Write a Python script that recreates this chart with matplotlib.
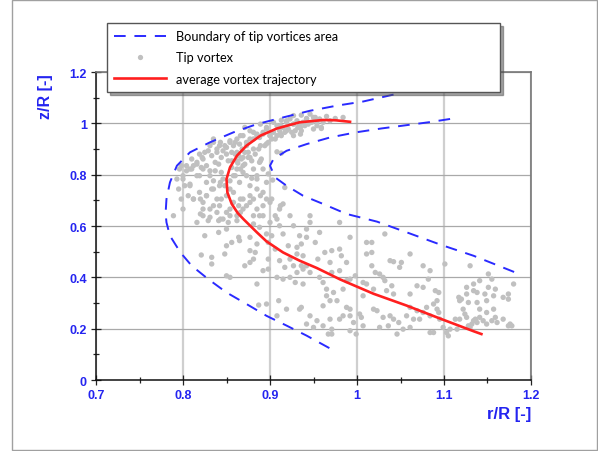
import matplotlib
matplotlib.use("Agg")
import matplotlib.pyplot as plt
from matplotlib.lines import Line2D
from matplotlib.patches import Rectangle

# average vortex trajectory (r/R, z/R)
avg_r = [0.992, 0.975, 0.961, 0.934, 0.908, 0.889, 0.873, 0.862, 0.854, 0.850, 0.851, 0.856, 0.863,
         0.870, 0.885, 0.896, 0.915, 0.934, 0.954, 0.9805, 1.019, 1.057, 1.095, 1.134, 1.143]
avg_z = [1.006, 1.012, 1.013, 1.004, 0.980, 0.952, 0.913, 0.874, 0.828, 0.783, 0.731, 0.686, 0.650,
         0.625, 0.575, 0.540, 0.497, 0.465, 0.436, 0.392, 0.336, 0.290, 0.240, 0.190, 0.179]

# boundary of the tip vortices area
outer_r = [1.042, 1.007, 0.977, 0.946, 0.915, 0.885, 0.858, 0.831, 0.808, 0.793, 0.785, 0.781, 0.780,
           0.781, 0.785, 0.797, 0.810, 0.829, 0.850, 0.873, 0.896, 0.919, 0.942, 0.970]
outer_z = [1.112, 1.085, 1.069, 1.049, 1.023, 0.997, 0.965, 0.926, 0.887, 0.835, 0.770, 0.705, 0.650,
           0.614, 0.562, 0.497, 0.445, 0.393, 0.341, 0.296, 0.250, 0.212, 0.173, 0.121]
inner_r = [1.107, 1.082, 1.055, 1.028, 0.999, 0.969, 0.942, 0.919, 0.904, 0.900, 0.906, 0.919, 0.938,
           0.961, 0.988, 1.023, 1.059, 1.097, 1.134, 1.182]
inner_z = [1.017, 1.004, 0.992, 0.980, 0.965, 0.945, 0.919, 0.893, 0.861, 0.835, 0.789, 0.757, 0.718,
           0.686, 0.647, 0.617, 0.573, 0.526, 0.484, 0.419]

# tip vortex positions (r/R, z/R)
tip_upper = [
    (0.984, 1.023), (0.975, 1.019), (0.965, 1.027), (0.957, 1.017), (0.952, 1.023), (0.948, 1.004),
    (0.942, 1.019), (0.954, 0.991), (0.959, 0.980), (0.950, 0.978), (0.938, 1.004), (0.934, 0.991),
    (0.931, 1.010), (0.927, 0.997), (0.923, 1.017), (0.919, 1.004), (0.915, 0.984), (0.911, 0.971),
    (0.908, 0.991), (0.904, 0.965), (0.900, 0.952), (0.896, 0.978), (0.892, 0.958), (0.888, 0.945),
    (0.885, 0.952), (0.881, 0.965), (0.940, 0.991), (0.944, 0.997), (0.961, 1.004), (0.969, 1.010),
    (0.932, 0.984), (0.936, 0.971), (0.929, 0.971), (0.925, 0.965), (0.921, 0.978), (0.917, 0.965),
    (0.913, 0.952), (0.908, 0.952), (0.902, 0.939), (0.898, 0.926), (0.894, 0.913), (0.887, 0.900),
    (0.883, 0.880), (0.879, 0.854), (0.875, 0.867), (0.871, 0.887), (0.867, 0.861), (0.864, 0.874),
    (0.877, 0.939), (0.873, 0.926), (0.869, 0.952), (0.865, 0.919), (0.862, 0.939), (0.858, 0.913),
    (0.854, 0.926), (0.850, 0.906), (0.846, 0.893), (0.842, 0.913), (0.839, 0.887), (0.835, 0.926),
    (0.833, 0.874), (0.829, 0.893), (0.823, 0.861), (0.819, 0.880), (0.816, 0.841), (0.810, 0.861),
    (0.808, 0.822), (0.804, 0.835), (0.800, 0.796), (0.796, 0.822), (0.793, 0.783), (0.795, 0.744),
    (0.798, 0.705), (0.802, 0.757), (0.806, 0.718), (0.812, 0.705), (0.819, 0.731), (0.823, 0.692),
    (0.827, 0.770), (0.831, 0.796), (0.835, 0.744), (0.839, 0.705), (0.842, 0.757), (0.846, 0.783),
    (0.850, 0.718), (0.854, 0.744), (0.858, 0.796), (0.862, 0.822), (0.865, 0.770), (0.869, 0.835),
    (0.873, 0.796), (0.877, 0.757), (0.881, 0.822), (0.885, 0.744), (0.888, 0.848), (0.892, 0.731),
    (0.896, 0.770), (0.877, 0.692), (0.869, 0.666), (0.862, 0.640), (0.846, 0.627), (0.839, 0.653),
    (0.831, 0.666), (0.823, 0.640), (0.816, 0.614), (0.789, 0.640), (0.819, 0.796), (0.812, 0.835),
    (0.827, 0.835), (0.852, 0.854), (0.856, 0.828), (0.860, 0.880), (0.856, 0.887), (0.908, 0.889),
    (0.913, 0.884), (0.890, 0.861), (0.915, 0.686), (0.911, 0.666), (0.923, 0.640), (0.908, 0.627),
    (0.900, 0.614), (0.888, 0.640), (0.885, 0.666), (0.892, 0.679), (0.896, 0.705), (0.881, 0.640),
    (0.850, 0.653), (0.842, 0.679), (0.835, 0.679), (0.827, 0.718), (0.946, 0.640), (0.917, 0.750),
    (0.902, 0.705), (0.808, 0.757), (0.821, 0.828), (0.837, 0.815), (0.841, 0.841), (0.844, 0.809),
    (0.863, 0.845), (0.869, 0.809), (0.879, 0.786), (0.885, 0.796), (0.898, 0.803), (0.903, 0.779),
    (0.877, 0.718), (0.869, 0.705), (0.858, 0.692), (0.854, 0.666), (0.864, 0.679), (0.946, 1.036),
    (0.927, 1.030), (0.936, 1.032), (0.913, 1.012),
]
tip_dense = [
    (0.889, 0.997), (0.896, 0.984), (0.904, 1.004), (0.912, 0.991), (0.919, 1.010), (0.927, 0.997),
    (0.935, 0.984), (0.942, 1.017), (0.950, 1.023), (0.954, 1.004), (0.959, 0.984), (0.935, 0.958),
    (0.927, 0.952), (0.919, 0.971), (0.912, 0.958), (0.906, 0.939), (0.900, 0.952), (0.892, 0.965),
    (0.885, 0.958), (0.881, 0.939), (0.877, 0.971), (0.871, 0.984), (0.866, 0.952), (0.860, 0.926),
    (0.854, 0.932), (0.848, 0.913), (0.843, 0.926), (0.839, 0.900), (0.835, 0.939), (0.831, 0.913),
    (0.825, 0.887), (0.822, 0.867), (0.816, 0.848), (0.810, 0.822), (0.804, 0.815), (0.798, 0.835),
    (0.800, 0.783), (0.808, 0.763), (0.816, 0.796), (0.823, 0.822), (0.831, 0.815), (0.837, 0.848),
    (0.844, 0.867), (0.850, 0.880), (0.856, 0.854), (0.862, 0.887), (0.868, 0.900), (0.873, 0.913),
    (0.877, 0.867), (0.871, 0.841), (0.866, 0.822), (0.860, 0.796), (0.854, 0.776), (0.848, 0.757),
    (0.843, 0.770), (0.835, 0.776), (0.833, 0.744), (0.827, 0.718), (0.820, 0.705), (0.812, 0.705),
    (0.800, 0.666), (0.823, 0.666), (0.844, 0.705), (0.858, 0.731), (0.866, 0.705), (0.873, 0.679),
    (0.881, 0.705), (0.889, 0.718), (0.885, 0.783), (0.892, 0.822), (0.889, 0.854), (0.900, 0.692),
    (0.912, 0.679), (0.906, 0.640), (0.892, 0.640), (0.866, 0.653), (0.854, 0.640), (0.843, 0.627),
    (0.831, 0.634), (0.820, 0.647), (0.862, 0.854), (0.869, 0.867), (0.875, 0.887), (0.881, 0.900),
    (0.889, 0.913), (0.896, 0.920),
]
tip_middle = [
    (0.829, 0.621), (0.841, 0.621), (0.852, 0.614), (0.862, 0.621), (0.881, 0.608), (0.888, 0.595),
    (0.896, 0.569), (0.902, 0.562), (0.911, 0.601), (0.915, 0.569), (0.927, 0.601), (0.934, 0.562),
    (0.942, 0.588), (0.946, 0.614), (0.957, 0.575), (0.980, 0.614), (0.992, 0.556), (0.825, 0.562),
    (0.841, 0.575), (0.850, 0.588), (0.856, 0.536), (0.850, 0.523), (0.864, 0.556), (0.865, 0.543),
    (0.877, 0.556), (0.885, 0.530), (0.898, 0.536), (0.906, 0.510), (0.921, 0.523), (0.931, 0.517),
    (0.936, 0.530), (0.942, 0.556), (0.952, 0.536), (0.963, 0.497), (0.971, 0.504), (0.980, 0.510),
    (1.011, 0.536), (0.821, 0.487), (0.833, 0.478), (0.833, 0.452), (0.848, 0.491), (0.877, 0.504),
    (0.883, 0.497), (0.881, 0.471), (0.877, 0.458), (0.871, 0.445), (0.898, 0.471), (0.911, 0.465),
    (0.917, 0.439), (0.923, 0.471), (0.931, 0.491), (0.938, 0.484), (0.942, 0.445), (0.927, 0.445),
    (0.936, 0.445), (0.955, 0.471), (0.969, 0.458), (0.982, 0.484), (0.988, 0.458), (0.892, 0.426),
    (0.898, 0.432), (0.908, 0.400), (0.915, 0.393), (0.923, 0.400), (0.931, 0.419), (0.938, 0.432),
    (0.946, 0.419), (0.957, 0.400), (0.961, 0.380), (0.965, 0.354), (0.971, 0.419), (0.980, 0.426),
    (0.988, 0.387), (0.850, 0.406), (0.854, 0.400), (0.885, 0.374), (0.929, 0.380), (0.938, 0.374),
    (0.984, 0.354), (0.992, 0.393), (0.998, 0.406), (0.965, 0.328), (0.969, 0.309), (0.961, 0.289),
    (0.973, 0.341), (0.977, 0.309), (0.988, 0.283), (0.992, 0.276), (0.936, 0.283), (0.934, 0.276),
    (0.919, 0.276), (0.910, 0.309), (0.896, 0.296), (0.887, 0.292), (1.007, 0.328), (0.908, 0.250),
    (0.946, 0.250), (0.954, 0.231), (0.942, 0.218), (0.950, 0.205), (0.961, 0.211), (0.969, 0.237),
    (0.971, 0.198), (0.971, 0.179), (0.967, 0.179), (0.980, 0.237), (0.984, 0.250), (0.992, 0.250),
    (1.003, 0.257), (1.005, 0.244), (0.996, 0.224), (0.992, 0.192), (0.999, 0.179), (1.007, 0.211),
]
tip_lower = [
    (1.017, 0.536), (1.011, 0.491), (1.017, 0.497), (1.032, 0.569), (1.061, 0.491), (1.038, 0.465),
    (1.042, 0.461), (1.051, 0.458), (1.049, 0.439), (1.017, 0.445), (1.021, 0.419), (1.026, 0.413),
    (1.030, 0.400), (1.032, 0.387), (1.007, 0.380), (1.011, 0.374), (1.040, 0.367), (1.019, 0.354),
    (1.034, 0.348), (1.042, 0.335), (1.019, 0.276), (1.023, 0.270), (1.030, 0.244), (1.038, 0.250),
    (1.042, 0.237), (1.026, 0.205), (1.036, 0.211), (1.046, 0.179), (1.053, 0.198), (1.061, 0.205),
    (1.048, 0.224), (1.057, 0.250), (1.061, 0.283), (1.069, 0.270), (1.072, 0.237), (1.065, 0.237),
    (1.076, 0.263), (1.080, 0.283), (1.088, 0.296), (1.092, 0.276), (1.084, 0.250), (1.094, 0.263),
    (1.095, 0.237), (1.092, 0.309), (1.090, 0.348), (1.094, 0.341), (1.076, 0.445), (1.084, 0.426),
    (1.082, 0.393), (1.069, 0.367), (1.076, 0.361), (1.061, 0.335), (1.101, 0.452), (1.130, 0.445),
    (1.151, 0.413), (1.141, 0.387), (1.155, 0.393), (1.159, 0.354), (1.134, 0.374), (1.126, 0.361),
    (1.117, 0.322), (1.120, 0.315), (1.126, 0.335), (1.134, 0.348), (1.138, 0.341), (1.147, 0.335),
    (1.151, 0.361), (1.157, 0.328), (1.168, 0.322), (1.174, 0.335), (1.180, 0.374), (1.174, 0.315),
    (1.122, 0.276), (1.118, 0.309), (1.128, 0.302), (1.138, 0.302), (1.141, 0.276), (1.149, 0.309),
    (1.149, 0.263), (1.157, 0.276), (1.159, 0.244), (1.155, 0.231), (1.161, 0.224), (1.145, 0.231),
    (1.149, 0.218), (1.134, 0.231), (1.132, 0.218), (1.130, 0.205), (1.136, 0.237), (1.141, 0.244),
    (1.126, 0.244), (1.118, 0.237), (1.113, 0.237), (1.124, 0.257), (1.115, 0.198), (1.107, 0.198),
    (1.103, 0.185), (1.105, 0.172), (1.099, 0.205), (1.084, 0.185), (1.088, 0.185), (1.168, 0.237),
    (1.176, 0.218), (1.178, 0.211), (1.174, 0.211), (1.128, 0.211), (1.138, 0.224),
]

x_ticks = [0.7, 0.8, 0.9, 1.0, 1.1, 1.2]
x_labels = ["0.7", "0.8", "0.9", "1", "1.1", "1.2"]
y_ticks = [0.0, 0.2, 0.4, 0.6, 0.8, 1.0, 1.2]
y_labels = ["0", "0.2", "0.4", "0.6", "0.8", "1", "1.2"]
x_minor = [0.75, 0.85, 0.95, 1.05, 1.15]
y_minor = [0.1, 0.3, 0.5, 0.7, 0.9, 1.1]

labels = ["Boundary of tip vortices area", "Tip vortex", "average vortex trajectory"]

blue_txt = "#2424f0"
dash_blue = "#2a2aff"
dot_grey = "#c0c0c0"
red = "#ff1f1f"

W, H = 598, 452
fig = plt.figure(figsize=(W / 100, H / 100), dpi=100)
ax = fig.add_axes([96 / W, 1 - 381 / H, 435 / W, 308 / H])

tip = tip_upper + tip_dense + tip_middle + tip_lower
ax.scatter([p[0] for p in tip], [p[1] for p in tip], s=15, c=dot_grey, edgecolors="none", zorder=2)
ax.plot(outer_r, outer_z, color=dash_blue, lw=1.4, dashes=(6, 4.5), zorder=3)
ax.plot(inner_r, inner_z, color=dash_blue, lw=1.4, dashes=(6, 4.5), zorder=3)
ax.plot(avg_r, avg_z, color=red, lw=1.9, zorder=4, solid_joinstyle="round")

ax.set_xlim(0.7, 1.2)
ax.set_ylim(0, 1.2)
ax.set_xticks(x_ticks, x_labels, fontsize=9, fontweight="bold", color=blue_txt, family="Liberation Sans")
ax.set_yticks(y_ticks, y_labels, fontsize=9, fontweight="bold", color=blue_txt, family="Liberation Sans")
ax.set_xticks(x_minor, minor=True)
ax.set_yticks(y_minor, minor=True)
ax.tick_params(which="major", direction="inout", length=7, width=0.9, color="#222222", pad=3)
ax.tick_params(which="minor", direction="inout", length=4, width=0.9, color="#222222")

ax.xaxis.grid(True, which="major", color="#cfcfcf", lw=1.6, zorder=0)
ax.yaxis.grid(True, which="major", color="#a9a9a9", lw=0.9, zorder=0)
ax.set_axisbelow(True)

for s in ["left", "bottom"]:
    ax.spines[s].set_color("#111111")
    ax.spines[s].set_linewidth(1.1)
for s in ["top", "right"]:
    ax.spines[s].set_color("#777777")
    ax.spines[s].set_linewidth(1.2)

ax.set_xlabel("r/R [-]", fontsize=12, fontweight="bold", color=blue_txt, family="Liberation Sans", loc="right")
ax.xaxis.set_label_coords(1.0, -0.085)
ax.set_ylabel("z/R [-]", fontsize=11.5, fontweight="bold", color=blue_txt, family="Liberation Sans", loc="top")
ax.yaxis.set_label_coords(-0.098, 0.995)

handles = [
    Line2D([], [], color=dash_blue, lw=1.4, dashes=(6, 4.5)),
    Line2D([], [], ls="none", marker="o", markersize=3.8, color=dot_grey, markeredgecolor="none"),
    Line2D([], [], color=red, lw=1.9),
]
leg = ax.legend(handles, labels, loc="upper left", mode="expand",
                bbox_to_anchor=(107 / W, 0.5, 393 / W, 1 - 24 / H - 0.5),
                bbox_transform=fig.transFigure, borderaxespad=0, borderpad=0.55,
                handlelength=4.1, handletextpad=0.75, labelspacing=0.74,
                fancybox=False, shadow=True, framealpha=1, edgecolor="#555555",
                prop={"family": "Lato", "size": 9.2})
leg.get_frame().set_linewidth(1.0)

fig.add_artist(Rectangle((12 / W, 1 / H), 585 / W, 450 / H, transform=fig.transFigure,
                         fill=False, edgecolor="#a0a0a0", lw=1.0))

fig.savefig("out.png", dpi=100)
